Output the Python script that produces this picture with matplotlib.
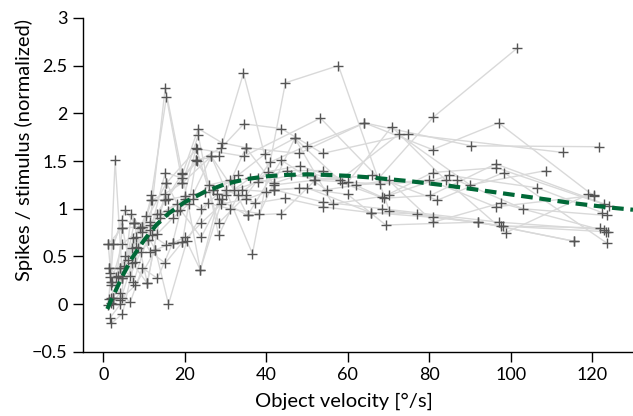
import matplotlib
matplotlib.use("Agg")
import matplotlib.pyplot as plt
from matplotlib.ticker import FuncFormatter, MultipleLocator

plt.rcParams["font.family"] = ["Lato", "DejaVu Sans"]

# per-cell velocity tuning (velocity in deg/s, normalized spikes/stimulus)
vel_01 = [2, 4.7, 9.6, 15.5, 23, 34.5, 53.3, 67.6, 81, 101.5]
resp_01 = [0.23, 0.63, 0.81, 1.27, 1.63, 1.55, 1.95, 1.32, 1.96, 2.68]
vel_02 = [1.5, 4.2, 7.1, 11.5, 15.2, 22.8, 28.3, 34.4, 41.8, 54, 68.5, 97, 123]
resp_02 = [0.38, 0.38, 0.59, 0.83, 1.09, 1.51, 1.55, 2.42, 1.20, 1.07, 1.0, 0.86, 0.78]
vel_03 = [2.5, 4.7, 7.9, 11.8, 15.5, 19.4, 26.5, 36.6, 44.7, 57.7, 70.2, 97.5, 123.3]
resp_03 = [0.07, 0.30, 0.44, 1.14, 2.17, 1.27, 1.55, 0.53, 2.32, 2.50, 0.98, 0.82, 0.76]
vel_04 = [1.2, 2.5, 4.7, 7.6, 11.5, 15.2, 19.4, 23.3, 29.2, 35, 48, 64.1, 90.2, 121.6]
resp_04 = [-0.01, 0.63, 0.88, 0.85, 0.86, 2.27, 1.36, 1.84, 1.69, 1.64, 1.58, 1.90, 1.66, 1.65]
vel_05 = [1.7, 2.9, 4.7, 7.4, 11, 15.2, 19.4, 23.1, 29, 34.5, 43.7, 53.8, 74.9, 112.8]
resp_05 = [0.29, 1.51, 0.27, 0.69, 0.67, 1.38, 1.32, 1.50, 1.64, 1.89, 1.84, 1.58, 1.78, 1.59]
vel_06 = [2, 4.2, 6.6, 9.6, 13.3, 17, 22.8, 28.3, 35.1, 41, 49.9, 64.1, 80.8, 97, 120.5]
resp_06 = [0.01, 0.12, 0.02, 0.38, 0.27, 0.64, 1.64, 0.85, 1.14, 1.49, 1.66, 1.90, 1.62, 1.90, 1.13]
vel_07 = [2.2, 4.7, 7.9, 12.8, 16, 20.5, 25.6, 31, 38.3, 47, 58.7, 68.8, 80.3, 96.3, 123]
resp_07 = [0.23, 0.07, 0.20, 0.57, 0.00, 0.66, 1.06, 1.00, 0.95, 1.74, 1.27, 1.11, 1.14, 1.47, 1.05]
vel_08 = [1.5, 4.2, 7.1, 10.8, 15.5, 18.9, 24, 30, 37.3, 44.5, 54, 65.6, 81, 92, 115.5]
resp_08 = [0.05, 0.04, 0.43, 0.22, 1.27, 0.99, 0.70, 1.20, 1.06, 1.11, 1.02, 0.96, 0.91, 0.86, 0.66]
vel_09 = [2, 4.7, 8.4, 11.8, 15.2, 19.4, 23.3, 28.3, 33, 40.5, 48.2, 62, 80, 96.3, 120.5]
resp_09 = [-0.20, -0.10, 0.59, 1.09, 1.16, 1.27, 1.77, 0.72, 1.14, 1.39, 1.45, 1.25, 1.30, 1.02, 1.14]
vel_10 = [1.7, 4.2, 6.9, 9.6, 13.3, 17, 21, 26, 31, 35.4, 43.7, 52, 66, 82, 98.3, 123.6]
resp_10 = [-0.14, 0.0, 0.95, 0.76, 0.74, 0.90, 1.05, 1.25, 1.30, 0.93, 0.95, 1.30, 1.35, 1.09, 1.38, 0.64]
vel_11 = [2.5, 5.4, 7.6, 11.5, 15.2, 19.4, 22.8, 27, 33, 39.6, 47, 56.3, 70, 84.8, 106.4, 122.4]
resp_11 = [0.63, 0.99, 0.85, 0.55, 0.43, 0.65, 1.51, 1.20, 1.35, 1.57, 1.74, 1.05, 1.14, 1.35, 1.22, 0.96]
vel_12 = [1.2, 4.7, 9.6, 12.8, 17, 20, 23.8, 29.2, 35, 42, 51.8, 67.8, 86.7, 103, 123.5]
resp_12 = [0.63, 0.80, 0.81, 0.57, 0.64, 0.70, 0.36, 1.10, 1.64, 1.25, 1.30, 1.26, 1.30, 1.00, 0.93]
vel_13 = [1.2, 2.5, 4.7, 7.4, 11.5, 15.2, 19.4, 23.8, 28.3, 35.4, 43.7, 54.8, 70, 81, 97.5, 123.8]
resp_13 = [0.63, 0.0, 0.80, 0.23, 0.78, 1.09, 1.37, 0.36, 1.10, 0.93, 1.51, 1.20, 1.30, 0.86, 1.06, 0.76]
vel_14 = [2, 4.7, 7.6, 10.8, 14, 18, 22, 26.5, 32, 38, 46, 58, 72.5, 90, 108.6]
resp_14 = [0.07, 0.27, 0.85, 0.22, 0.95, 1.05, 1.15, 1.55, 1.20, 1.28, 1.35, 1.30, 1.78, 1.25, 1.40]
vel_15 = [1.5, 3.5, 6, 9, 12, 16, 20, 25, 30, 36, 42, 50, 60, 70.8, 84, 98.8, 119]
resp_15 = [0.38, 0.30, 0.46, 0.80, 1.09, 1.10, 1.13, 1.18, 1.14, 1.32, 1.27, 1.38, 1.28, 1.86, 1.30, 0.75, 1.15]
vel_16 = [2.5, 5, 8, 11, 14, 18, 22, 27, 32, 38, 45, 53.8, 68.5, 80.8, 96.5, 124]
resp_16 = [0.07, 0.40, 0.60, 0.67, 0.90, 0.98, 1.10, 1.20, 1.30, 1.32, 1.40, 1.40, 1.12, 1.38, 1.43, 1.03]
vel_17 = [2, 4.2, 6.6, 9.2, 12, 15.5, 19.4, 24, 29, 35, 41.8, 50, 65.6, 77, 98, 122]
resp_17 = [0.20, 0.38, 0.30, 0.55, 0.72, 0.62, 0.65, 0.85, 1.05, 1.10, 1.20, 1.22, 0.96, 0.95, 0.82, 0.80]
vel_18 = [1.7, 3, 5.4, 8, 10.5, 13.3, 16, 20, 24, 28, 34, 40, 48, 60, 69.3, 92, 115.5]
resp_18 = [0.33, 0.28, 0.50, 0.70, 0.92, 0.95, 0.98, 1.10, 1.00, 1.15, 1.20, 1.18, 1.22, 1.15, 0.83, 0.86, 0.66]

cells = [
    (vel_01, resp_01), (vel_02, resp_02), (vel_03, resp_03), (vel_04, resp_04),
    (vel_05, resp_05), (vel_06, resp_06), (vel_07, resp_07), (vel_08, resp_08),
    (vel_09, resp_09), (vel_10, resp_10), (vel_11, resp_11), (vel_12, resp_12),
    (vel_13, resp_13), (vel_14, resp_14), (vel_15, resp_15), (vel_16, resp_16),
    (vel_17, resp_17), (vel_18, resp_18),
]

# population fit
fit_vel = [1, 2, 3, 5, 7, 10, 13, 16, 20, 25, 30, 35, 40, 45, 50, 55, 60, 65,
           70, 75, 80, 85, 90, 95, 100, 105, 110, 115, 120, 125, 130]
fit_resp = [-0.05, 0.05, 0.14, 0.32, 0.48, 0.67, 0.83, 0.95, 1.07, 1.18, 1.26,
            1.31, 1.34, 1.355, 1.36, 1.355, 1.345, 1.33, 1.31, 1.29, 1.265,
            1.24, 1.21, 1.18, 1.15, 1.12, 1.09, 1.06, 1.035, 1.01, 0.99]

fig = plt.figure(figsize=(6.33, 4.16), dpi=100)
ax = fig.add_axes([0.131, 0.154, 0.869, 0.803])

for v, r in cells:
    ax.plot(v, r, color="#d9d9d9", lw=1.0, zorder=1)
for v, r in cells:
    ax.plot(v, r, ls="none", marker="+", ms=6.5, mew=1.0, color="#555555", zorder=2)

ax.plot(fit_vel, fit_resp, color="#006837", lw=3, ls=(0, (2.8, 1.6)), zorder=3)

ax.set_xlim(-5, 130)
ax.set_ylim(-0.5, 3)
ax.xaxis.set_major_locator(MultipleLocator(20))
ax.yaxis.set_major_locator(MultipleLocator(0.5))
ax.yaxis.set_major_formatter(FuncFormatter(lambda y, _: f"{y:g}".replace("-", "\u2212")))

for side in ("top", "right"):
    ax.spines[side].set_visible(False)
for side in ("left", "bottom"):
    ax.spines[side].set_linewidth(1.0)
ax.tick_params(direction="out", length=7.5, width=1, labelsize=13, pad=3.5)

ax.set_xlabel("Object velocity [°/s]", fontsize=14.5)
ax.xaxis.set_label_coords(0.475, -0.122)
ax.set_ylabel("Spikes / stimulus (normalized)", fontsize=14.5)
ax.yaxis.set_label_coords(-0.09, 0.605)

fig.savefig("out.png", dpi=100)
